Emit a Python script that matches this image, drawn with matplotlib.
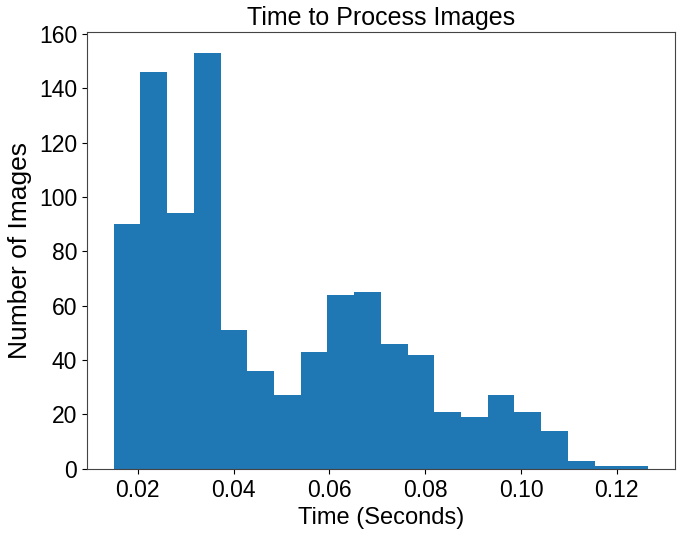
import numpy as np
import matplotlib
matplotlib.use('Agg')
import matplotlib.pyplot as plt

# histogram: 20 bins between ~0.0150 and ~0.1265 s
bin_start = 0.0150
bin_end = 0.1265
counts = [90, 146, 94, 153, 51, 36, 27, 43, 64, 65,
          46, 42, 21, 19, 27, 21, 14, 3, 1, 1]

edges = np.linspace(bin_start, bin_end, len(counts) + 1)

plt.rcParams['font.family'] = ['Liberation Sans', 'DejaVu Sans']

fig = plt.figure(figsize=(6.85, 5.34), dpi=100)
ax = fig.add_axes([0.127, 0.122, 0.858, 0.818])
ax.hist(edges[:-1], bins=edges, weights=counts, color='#1f77b4')
ax.set_title('Time to Process Images', fontsize=18, pad=5)
ax.set_xlabel('Time (Seconds)', fontsize=17, labelpad=4)
ax.set_ylabel('Number of Images', fontsize=19, labelpad=5)
ax.tick_params(labelsize=16.5)
for s in ax.spines.values():
    s.set_color('#444444')

fig.savefig('out.png', dpi=100)
